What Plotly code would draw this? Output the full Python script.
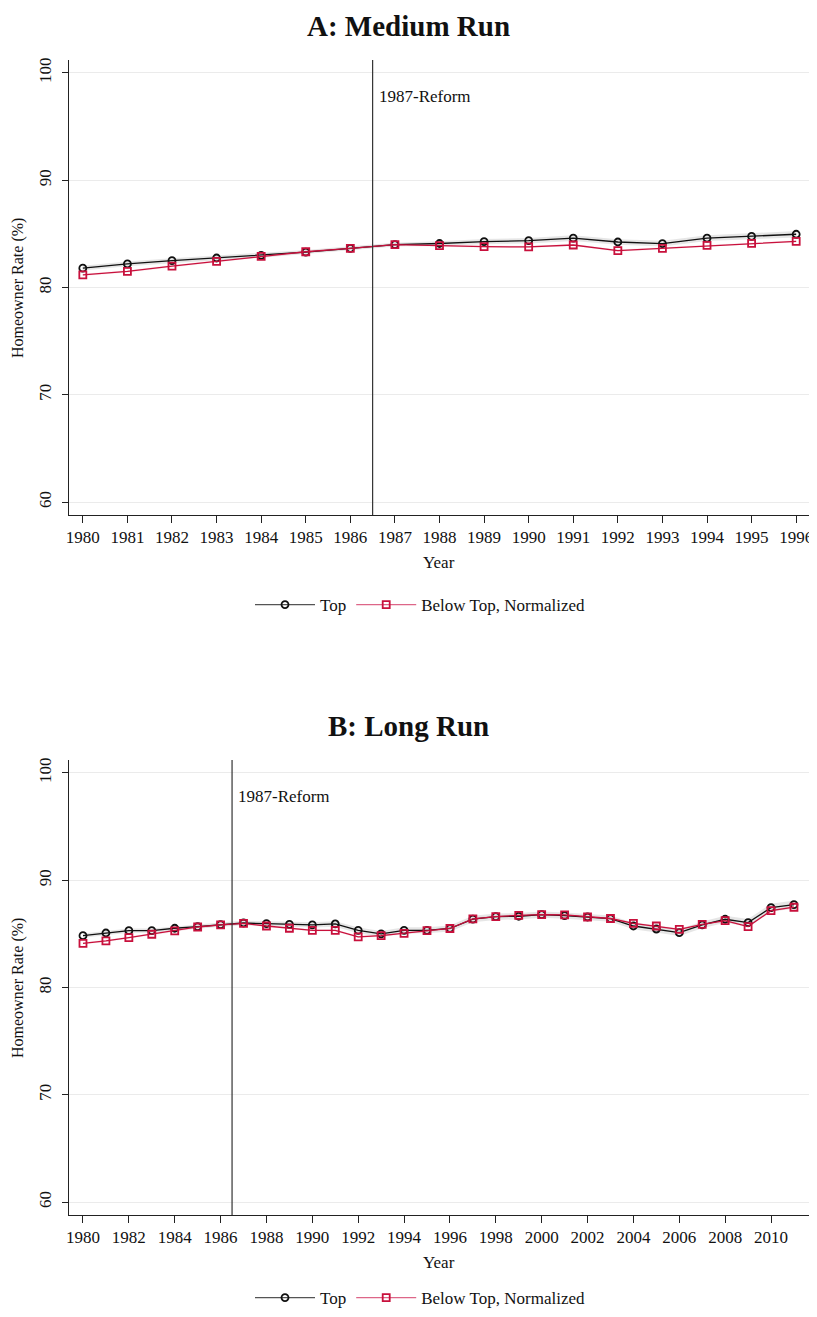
import plotly.graph_objects as go

# ---------------- data ----------------
years_a = [1980, 1981, 1982, 1983, 1984, 1985, 1986, 1987, 1988, 1989, 1990,
           1991, 1992, 1993, 1994, 1995, 1996]
top_a = [81.8, 82.2, 82.5, 82.75, 83.0, 83.3, 83.65, 84.0, 84.1, 84.27, 84.36,
         84.6, 84.24, 84.09, 84.6, 84.77, 84.96]
below_a = [81.17, 81.5, 82.0, 82.44, 82.9, 83.33, 83.65, 84.0, 83.9, 83.8, 83.78,
           83.96, 83.43, 83.65, 83.93, 84.12, 84.3]
top_a_ci = [0.22, 0.22, 0.22, 0.22, 0.22, 0.2, 0.2, 0.18, 0.22, 0.24, 0.25,
            0.26, 0.26, 0.26, 0.27, 0.28, 0.3]
below_a_ci = [0.1, 0.1, 0.1, 0.1, 0.1, 0.1, 0.1, 0.1, 0.1, 0.1, 0.1,
              0.1, 0.1, 0.1, 0.1, 0.1, 0.1]

years_b = list(range(1980, 2012))
top_b = [84.83, 85.08, 85.3, 85.3, 85.52, 85.67, 85.86, 86.01, 85.95, 85.89, 85.83,
         85.92, 85.33, 84.99, 85.33, 85.33, 85.5, 86.38, 86.6, 86.64, 86.79, 86.7,
         86.57, 86.42, 85.73, 85.45, 85.11, 85.83, 86.36, 86.05, 87.44, 87.72]
below_b = [84.12, 84.34, 84.65, 84.96, 85.27, 85.64, 85.83, 85.98, 85.73, 85.52, 85.33,
           85.33, 84.71, 84.83, 85.05, 85.3, 85.5, 86.4, 86.6, 86.73, 86.79, 86.76,
           86.57, 86.43, 85.98, 85.73, 85.42, 85.89, 86.23, 85.67, 87.16, 87.48]
top_b_ci = [0.2, 0.2, 0.2, 0.2, 0.2, 0.2, 0.2, 0.2, 0.22, 0.24, 0.25,
            0.26, 0.27, 0.28, 0.28, 0.28, 0.28, 0.3, 0.3, 0.3, 0.3, 0.3,
            0.3, 0.3, 0.3, 0.32, 0.32, 0.32, 0.33, 0.34, 0.36, 0.38]
below_b_ci = [0.1, 0.1, 0.1, 0.1, 0.1, 0.1, 0.1, 0.1, 0.1, 0.1, 0.1,
              0.1, 0.1, 0.1, 0.1, 0.1, 0.1, 0.1, 0.1, 0.1, 0.1, 0.1,
              0.1, 0.1, 0.1, 0.1, 0.1, 0.1, 0.1, 0.1, 0.1, 0.1]

y_ticks = [60, 70, 80, 90, 100]
x_ticks_a = years_a
x_ticks_b = [1980, 1982, 1984, 1986, 1988, 1990, 1992, 1994, 1996, 1998, 2000,
             2002, 2004, 2006, 2008, 2010]
reform_x = 1986.5
titles = ["A: Medium Run", "B: Long Run"]
series_names = ["Top", "Below Top, Normalized"]

# ---------------- style ----------------
FONT = "Liberation Serif"
BLACK = "#111111"
RED = "#c8103c"
OFF = 8                      # page body margin
W, H = 817 - OFF, 1317 - 2 * OFF
L, PW = 69 - OFF, 741


def py(yref_px):
    return 1 - (yref_px - OFF) / H


def px(xref_px):
    return (xref_px - OFF - L) / PW


fig = go.Figure()


def add_panel(xs, top, below, top_ci, below_ci, xaxis, yaxis, legend):
    lo = [t - c for t, c in zip(top, top_ci)]
    hi = [t + c for t, c in zip(top, top_ci)]
    fig.add_trace(go.Scatter(x=xs + xs[::-1], y=hi + lo[::-1], fill="toself",
                             fillcolor="rgba(140,140,140,0.22)", line=dict(width=0),
                             hoverinfo="skip", showlegend=False, xaxis=xaxis, yaxis=yaxis))
    lo2 = [t - c for t, c in zip(below, below_ci)]
    hi2 = [t + c for t, c in zip(below, below_ci)]
    fig.add_trace(go.Scatter(x=xs + xs[::-1], y=hi2 + lo2[::-1], fill="toself",
                             fillcolor="rgba(220,60,100,0.10)", line=dict(width=0),
                             hoverinfo="skip", showlegend=False, xaxis=xaxis, yaxis=yaxis))
    fig.add_trace(go.Scatter(x=xs, y=top, mode="lines+markers", name=series_names[0],
                             line=dict(color=BLACK, width=1.3),
                             marker=dict(symbol="circle-open", size=7, color=BLACK,
                                         line=dict(width=1.8)),
                             showlegend=False, xaxis=xaxis, yaxis=yaxis))
    fig.add_trace(go.Scatter(x=xs, y=below, mode="lines+markers",
                             name=series_names[1],
                             line=dict(color=RED, width=1.3),
                             marker=dict(symbol="square-open", size=7, color=RED,
                                         line=dict(width=1.8)),
                             showlegend=False, xaxis=xaxis, yaxis=yaxis))
    # legend keys (lighter line like the original legend)
    fig.add_trace(go.Scatter(x=[None], y=[None], mode="lines+markers", name=series_names[0],
                             line=dict(color="#555555", width=1.3),
                             marker=dict(symbol="circle-open", size=7, color=BLACK,
                                         line=dict(width=1.8)),
                             xaxis=xaxis, yaxis=yaxis, legend=legend))
    fig.add_trace(go.Scatter(x=[None], y=[None], mode="lines+markers", name=series_names[1],
                             line=dict(color="#dd6688", width=1.3),
                             marker=dict(symbol="square-open", size=7, color=RED,
                                         line=dict(width=1.8)),
                             xaxis=xaxis, yaxis=yaxis, legend=legend))


add_panel(years_a, top_a, below_a, top_a_ci, below_a_ci, "x", "y", "legend")
add_panel(years_b, top_b, below_b, top_b_ci, below_b_ci, "x2", "y2", "legend2")

dom_a = [py(515), py(60)]
dom_b = [py(1215), py(760)]

xcommon = dict(showline=True, linecolor="#222", linewidth=1, ticks="outside",
               ticklen=7, tickcolor="#222", showgrid=False, zeroline=False,
               automargin=False, ticklabeloverflow="allow",
               tickfont=dict(family=FONT, size=17, color="#111"))
ycommon = dict(showline=True, linecolor="#222", linewidth=1, ticks="outside",
               ticklen=6, tickcolor="#222", showgrid=True, gridcolor="#ebebeb",
               gridwidth=1, zeroline=False, tickvals=y_ticks, tickangle=-90,
               range=[58.8, 101.2], automargin=False, ticklabelstandoff=4,
               tickfont=dict(family=FONT, size=17, color="#111"))

legend_style = dict(orientation="h", xanchor="center",
                    font=dict(family=FONT, size=17, color="#111"),
                    bgcolor="rgba(0,0,0,0)", itemwidth=60, tracegroupgap=0)

fig.update_layout(
    width=W, height=H,
    margin=dict(l=L, r=W - L - PW, t=0, b=0, autoexpand=False),
    paper_bgcolor="white", plot_bgcolor="white",
    font=dict(family=FONT, color="#111"),
    xaxis=dict(domain=[0, 1], anchor="y", range=[1979.69, 1996.31],
               tickvals=x_ticks_a, **xcommon),
    yaxis=dict(domain=dom_a, anchor="x", **ycommon),
    xaxis2=dict(domain=[0, 1], anchor="y2", range=[1979.39, 2011.7],
                tickvals=x_ticks_b, **xcommon),
    yaxis2=dict(domain=dom_b, anchor="x2", **ycommon),
    legend=dict(x=px(420), y=py(605), yanchor="middle", **legend_style),
    legend2=dict(x=px(420), y=py(1316), yanchor="bottom", **legend_style),
    showlegend=True,
)

# reform lines
for xr, yr in (("x", "y"), ("x2", "y2")):
    fig.add_shape(type="line", xref=xr, yref=yr + " domain", x0=reform_x, x1=reform_x,
                  y0=0, y1=1, line=dict(color="#333", width=1.2))
    fig.add_annotation(xref=xr, yref=yr, x=reform_x, y=97.8, text="1987-Reform",
                       showarrow=False, xanchor="left", yanchor="middle", xshift=4,
                       font=dict(family=FONT, size=17, color="#111"))

# panel titles and axis titles
for title, ytop, yyear, ymid in zip(titles, (8, 708), (562, 1262), (288, 988)):
    fig.add_annotation(xref="paper", yref="paper", x=px(408), y=py(ytop),
                       text="<b>" + title + "</b>", showarrow=False,
                       xanchor="center", yanchor="top",
                       font=dict(family=FONT, size=29, color="#111"))
    fig.add_annotation(xref="paper", yref="paper", x=px(439), y=py(yyear),
                       text="Year", showarrow=False, xanchor="center", yanchor="middle",
                       font=dict(family=FONT, size=17, color="#111"))
    fig.add_annotation(xref="paper", yref="paper", x=px(18), y=py(ymid),
                       text="Homeowner Rate (%)", showarrow=False, textangle=-90,
                       xanchor="center", yanchor="middle",
                       font=dict(family=FONT, size=16, color="#111"))

fig.write_html("out.html")
